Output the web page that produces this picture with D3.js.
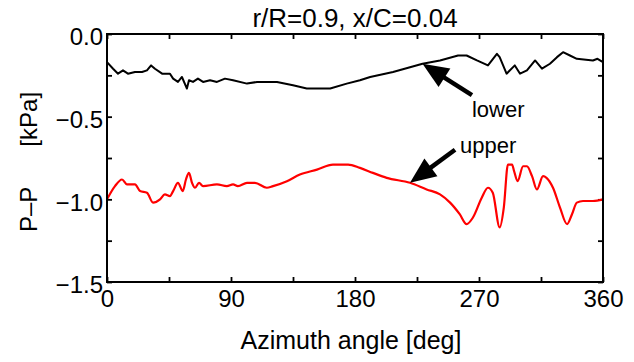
<!DOCTYPE html>
<html>
<head>
<meta charset="utf-8">
<script src="https://cdn.jsdelivr.net/npm/d3@7"></script>
<style>
  html, body { margin: 0; padding: 0; background: #fff; }
  svg { display: block; font-family: "Liberation Sans", Arial, sans-serif; }
</style>
</head>
<body>
<svg id="chart" width="634" height="362"></svg>
<script>
// Pressure difference around the blade section, lower and upper surfaces
const titleText = "r/R=0.9, x/C=0.04";
const xLabelText = "Azimuth angle [deg]";

const lowerAngle = [0, 4.4, 8, 11.6, 15.2, 20.3, 25.4, 29, 32, 34.8, 40, 45.7, 48, 51.5, 54.4, 58, 59.5, 62.4, 66, 69.7, 74.8, 79.8, 85.6, 91.5, 101.6, 108.9, 123.4, 135, 145, 162, 174, 183.6, 191, 207.6, 229, 241.7, 254.8, 261, 268.5, 276.5, 283, 285, 290, 296, 299.8, 304.8, 310.7, 315.7, 321.5, 326.6, 331, 336, 341, 352.7, 356, 360];
const lowerValue = [-0.17, -0.21, -0.24, -0.22, -0.24, -0.23, -0.23, -0.22, -0.19, -0.21, -0.24, -0.24, -0.27, -0.29, -0.26, -0.33, -0.28, -0.29, -0.27, -0.29, -0.28, -0.29, -0.27, -0.28, -0.30, -0.29, -0.29, -0.31, -0.33, -0.33, -0.30, -0.28, -0.26, -0.23, -0.18, -0.16, -0.13, -0.13, -0.16, -0.19, -0.12, -0.14, -0.24, -0.19, -0.24, -0.22, -0.16, -0.21, -0.18, -0.14, -0.11, -0.13, -0.15, -0.16, -0.15, -0.17];

const upperAngle = [0, 5.8, 10.9, 14.5, 20.3, 24, 29, 33.4, 38.5, 42, 45.7, 48, 51.5, 55, 57.3, 59.5, 61.7, 63.9, 66.8, 69.7, 79.8, 87, 91.5, 95, 101.6, 107.4, 116, 120.5, 130.6, 140, 152.4, 164, 175, 183.6, 193, 203, 220, 232, 241.7, 249, 256, 261, 265.6, 272, 276.5, 280, 285, 288, 291, 294, 295.5, 298, 302, 304.8, 308.5, 312, 316.5, 319, 323.7, 328.8, 333.9, 337.5, 341, 345.5, 352.7, 360];
const upperValue = [-1.00, -0.92, -0.88, -0.91, -0.91, -0.95, -0.96, -1.02, -1.00, -0.97, -0.98, -0.95, -0.90, -0.95, -0.88, -0.84, -0.90, -0.93, -0.90, -0.92, -0.91, -0.92, -0.91, -0.92, -0.90, -0.90, -0.93, -0.92, -0.89, -0.85, -0.82, -0.79, -0.79, -0.81, -0.84, -0.87, -0.90, -0.94, -0.97, -1.02, -1.09, -1.15, -1.11, -0.99, -0.93, -0.96, -1.17, -1.05, -0.79, -0.79, -0.83, -0.89, -0.80, -0.80, -0.86, -0.94, -0.86, -0.87, -0.93, -1.05, -1.15, -1.09, -1.02, -1.01, -1.01, -1.00];

const xTicks = [0, 45, 90, 135, 180, 225, 270, 315, 360];
const xTickLabels = [0, 90, 180, 270, 360];
const yTicks = [0, -0.25, -0.5, -0.75, -1.0, -1.25, -1.5];
const yTickLabels = [0, -0.5, -1.0, -1.5];

// Arrow annotations: [label, tipAngle, tipValue, tailAngle, tailValue, textAngle, textValue]
const annotations = [
  ["lower", 229, -0.18, 264.9, -0.37, 264.9, -0.50],
  ["upper", 219.9, -0.90, 252.6, -0.70, 256.2, -0.72]
];

const svg = d3.select("#chart");
const margin = { left: 107, right: 31, top: 34, bottom: 80 };
const W = 634, H = 362;
const x = d3.scaleLinear().domain([0, 360]).range([margin.left, W - margin.right]);
const y = d3.scaleLinear().domain([-1.5, 0]).range([H - margin.bottom, margin.top]);

svg.append("rect").attr("width", W).attr("height", H).attr("fill", "#fff");

// Negative labels use a true minus sign
const fmtY = d => yTickLabels.some(v => Math.abs(v - d) < 1e-9) ? (d < 0 ? "\u2212" + Math.abs(d).toFixed(1) : d.toFixed(1)) : "";
const fmtX = d => xTickLabels.includes(d) ? String(d) : "";

function styleAxis(g) {
  g.select(".domain").remove();
  g.selectAll(".tick line").attr("stroke", "#000").attr("stroke-width", 1.8);
  g.selectAll(".tick text").attr("fill", "#000").attr("font-size", 24)
    .attr("font-family", "'Liberation Sans', Arial, sans-serif");
}

svg.append("g").attr("transform", `translate(0,${y(-1.5)})`)
  .call(d3.axisBottom(x).tickValues(xTicks).tickFormat(fmtX).tickSizeInner(-5).tickSizeOuter(0).tickPadding(8))
  .call(styleAxis);
svg.append("g").attr("transform", `translate(0,${y(0)})`)
  .call(d3.axisTop(x).tickValues(xTicks).tickFormat("").tickSizeInner(-5).tickSizeOuter(0))
  .call(styleAxis);
svg.append("g").attr("transform", `translate(${x(0)},0)`)
  .call(d3.axisLeft(y).tickValues(yTicks).tickFormat(fmtY).tickSizeInner(-5).tickSizeOuter(0).tickPadding(4))
  .call(styleAxis)
  .call(g => g.selectAll(".tick text").attr("dy", "0.45em"));
svg.append("g").attr("transform", `translate(${x(360)},0)`)
  .call(d3.axisRight(y).tickValues(yTicks).tickFormat("").tickSizeInner(-5).tickSizeOuter(0))
  .call(styleAxis);

// Data lines
const lowerData = lowerAngle.map((a, i) => [a, lowerValue[i]]);
const upperData = upperAngle.map((a, i) => [a, upperValue[i]]);

svg.append("path").datum(upperData)
  .attr("fill", "none").attr("stroke", "#ff0000").attr("stroke-width", 2.2)
  .attr("stroke-linejoin", "round")
  .attr("d", d3.line().x(d => x(d[0])).y(d => y(d[1])).curve(d3.curveMonotoneX));

svg.append("path").datum(lowerData)
  .attr("fill", "none").attr("stroke", "#000").attr("stroke-width", 2)
  .attr("stroke-linejoin", "round")
  .attr("d", d3.line().x(d => x(d[0])).y(d => y(d[1])));

// Frame
svg.append("rect")
  .attr("x", x(0)).attr("y", y(0))
  .attr("width", x(360) - x(0)).attr("height", y(-1.5) - y(0))
  .attr("fill", "none").attr("stroke", "#000").attr("stroke-width", 2);

// Arrows with filled heads and labels
annotations.forEach(([label, ta, tv, la, lv, xa, xv]) => {
  const tx = x(ta), ty = y(tv), sx = x(la), sy = y(lv);
  const dx = sx - tx, dy = sy - ty, len = Math.hypot(dx, dy);
  const ux = dx / len, uy = dy / len;
  const headLen = 26, headHalf = 11;
  const bx = tx + ux * headLen, by = ty + uy * headLen;
  svg.append("line").attr("x1", bx - ux * 2).attr("y1", by - uy * 2).attr("x2", sx).attr("y2", sy)
    .attr("stroke", "#000").attr("stroke-width", 4.5);
  svg.append("path")
    .attr("d", `M${tx},${ty}L${bx - uy * headHalf},${by + ux * headHalf}L${bx + uy * headHalf},${by - ux * headHalf}Z`)
    .attr("fill", "#000");
  svg.append("text").attr("x", x(xa)).attr("y", y(xv))
    .attr("font-size", 22).attr("fill", "#000").text(label);
});

// Title and axis labels
svg.append("text").attr("x", (x(0) + x(360)) / 2).attr("y", 27)
  .attr("text-anchor", "middle").attr("font-size", 26).attr("fill", "#000").text(titleText);

svg.append("text").attr("x", (x(0) + x(360)) / 2 - 4).attr("y", 349)
  .attr("text-anchor", "middle").attr("font-size", 25).attr("fill", "#000").text(xLabelText);

const yl = svg.append("text").attr("transform", "translate(37,232) rotate(-90)")
  .attr("font-size", 24).attr("fill", "#000");
yl.append("tspan").text("P\u2013P");
yl.append("tspan").attr("dx", 40).text("[kPa]");
</script>
</body>
</html>
